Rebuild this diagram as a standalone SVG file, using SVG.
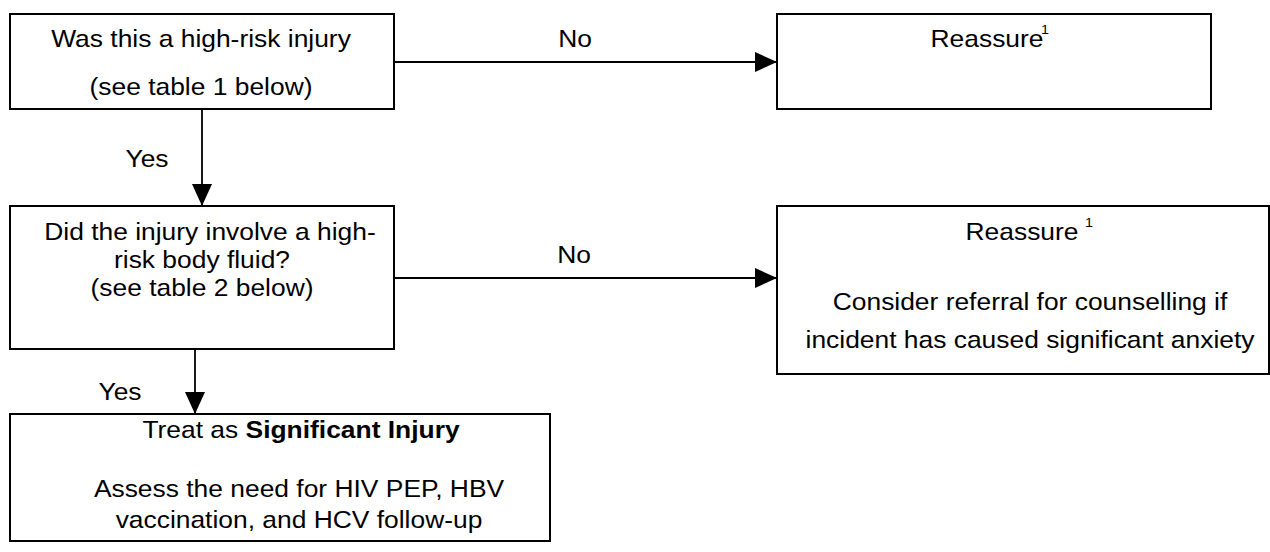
<svg xmlns="http://www.w3.org/2000/svg" width="1270" height="552" viewBox="0 0 1270 552">
<style>
  .box { fill: #ffffff; stroke: #000000; stroke-width: 2; }
  .conn { fill: none; stroke: #000000; stroke-width: 1.8; }
  text { font-family: "Liberation Sans", Arial, sans-serif; font-size: 24px; fill: #000000; text-anchor: middle; }
  .sup { font-size: 13px; }
  .b { font-weight: bold; }
</style>
<defs>
  <marker id="arrow" markerUnits="userSpaceOnUse" markerWidth="22" markerHeight="20" refX="22" refY="10" orient="auto">
    <path d="M0,0 L22,10 L0,20 z" fill="#000000"/>
  </marker>
</defs>
<rect width="1270" height="552" fill="#ffffff"/>

<g id="connectors">
  <line class="conn" x1="394" y1="62" x2="777" y2="62" marker-end="url(#arrow)"/>
  <line class="conn" x1="202" y1="109" x2="202" y2="206" marker-end="url(#arrow)"/>
  <line class="conn" x1="394" y1="278" x2="777" y2="278" marker-end="url(#arrow)"/>
  <line class="conn" x1="195" y1="349" x2="195" y2="414" marker-end="url(#arrow)"/>
  <text transform="translate(575,47) scale(1.1,1)">No</text>
  <text transform="translate(147,167) scale(1.1,1)">Yes</text>
  <text transform="translate(574,263) scale(1.1,1)">No</text>
  <text transform="translate(120,400) scale(1.1,1)">Yes</text>
</g>

<g id="node-high-risk-injury">
  <rect class="box" x="10" y="14" width="384" height="95"/>
  <text transform="translate(201,47) scale(1.1,1)">Was this a high-risk injury</text>
  <text transform="translate(201,95) scale(1.1,1)">(see table 1 below)</text>
</g>

<g id="node-reassure-1">
  <rect class="box" x="777" y="14" width="434" height="95"/>
  <text transform="translate(987,47) scale(1.1,1)">Reassure</text>
  <text class="sup" transform="translate(1045,34) scale(1.1,1)">1</text>
</g>

<g id="node-body-fluid">
  <rect class="box" x="10" y="206" width="384" height="143"/>
  <text transform="translate(210,240) scale(1.1,1)">Did the injury involve a high-</text>
  <text transform="translate(202,268) scale(1.1,1)">risk body fluid?</text>
  <text transform="translate(202,296) scale(1.1,1)">(see table 2 below)</text>
</g>

<g id="node-reassure-2">
  <rect class="box" x="777" y="206" width="492" height="168"/>
  <text transform="translate(1022,240) scale(1.1,1)">Reassure</text>
  <text class="sup" transform="translate(1089,227) scale(1.1,1)">1</text>
  <text transform="translate(1030,310) scale(1.1,1)">Consider referral for counselling if</text>
  <text transform="translate(1030,348) scale(1.1,1)">incident has caused significant anxiety</text>
</g>

<g id="node-significant-injury">
  <rect class="box" x="10" y="414" width="540" height="127"/>
  <text transform="translate(301,438) scale(1.1,1)">Treat as <tspan class="b">Significant Injury</tspan></text>
  <text transform="translate(299,497) scale(1.1,1)">Assess the need for HIV PEP, HBV</text>
  <text transform="translate(299,528) scale(1.1,1)">vaccination, and HCV follow-up</text>
</g>
</svg>
